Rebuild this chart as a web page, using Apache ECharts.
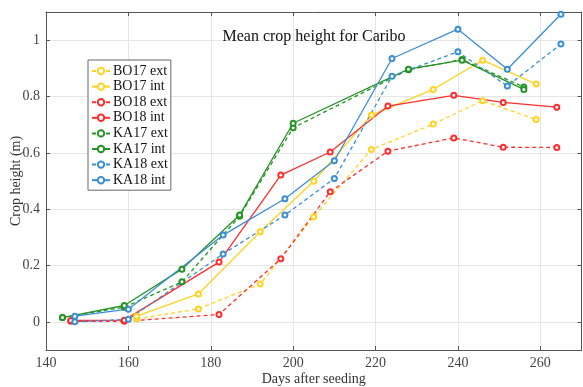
<!DOCTYPE html>
<html>
<head>
<meta charset="utf-8">
<script src="https://cdn.jsdelivr.net/npm/echarts@6/dist/echarts.min.js"></script>
<style>html,body{margin:0;padding:0;background:#fff}#c{width:583px;height:387px}</style>
</head>
<body>
<div id="c"></div>
<script>
const daysBO17 = [162, 177, 192, 205, 219, 234, 246, 259];
const bo17ext = [0.01, 0.046, 0.134, 0.373, 0.612, 0.702, 0.785, 0.718];
const bo17int = [0.02, 0.099, 0.32, 0.499, 0.734, 0.825, 0.929, 0.844];
const daysBO18 = [146, 159, 182, 197, 209, 223, 239, 251, 264];
const bo18ext = [0.002, 0.002, 0.026, 0.224, 0.462, 0.606, 0.653, 0.62, 0.619];
const bo18int = [0.005, 0.006, 0.212, 0.521, 0.603, 0.766, 0.804, 0.779, 0.762];
const daysKA17 = [144, 159, 173, 187, 200, 228, 241, 256];
const ka17ext = [0.015, 0.052, 0.142, 0.375, 0.689, 0.895, 0.931, 0.834];
const ka17int = [0.015, 0.058, 0.187, 0.379, 0.705, 0.897, 0.929, 0.825];
const daysKA18 = [147, 160, 183, 198, 210, 224, 240, 252, 265];
const ka18ext = [0.0, 0.009, 0.241, 0.379, 0.509, 0.872, 0.959, 0.837, 0.986];
const ka18int = [0.02, 0.045, 0.308, 0.437, 0.572, 0.935, 1.039, 0.897, 1.092];
const yTicks = [0, 0.2, 0.4, 0.6, 0.8, 1];

const FONT = 'Liberation Serif';
const C = {yellow: '#FFD320', red: '#FF2E2E', green: '#259425', blue: '#3A8ED4'};

function pairs(d, v) { return d.map((x, i) => [x, v[i]]); }
function mk(name, d, v, color, dashed) {
  return {
    name: name, type: 'line', data: pairs(d, v),
    symbol: 'emptyCircle', symbolSize: 5,
    lineStyle: {color: color, width: 1.3, type: dashed ? [4, 3] : 'solid'},
    itemStyle: {color: color, borderWidth: 1.2},
    emphasis: {disabled: true}, animation: false, z: 3
  };
}

const chart = echarts.init(document.getElementById('c'));
const axisLine = {show: true, onZero: false, lineStyle: {color: '#555', width: 1}};
chart.setOption({
  animation: false,
  backgroundColor: '#fff',
  textStyle: {fontFamily: FONT},
  grid: {left: 46, right: 1.5, top: 12, bottom: 37, outerBoundsMode: 'none', containLabel: false},
  title: {
    text: 'Mean crop height for Caribo', left: 309, top: 24, textAlign: 'center',
    textStyle: {fontFamily: FONT, fontSize: 16, fontWeight: 'normal', color: '#111'}
  },
  legend: {
    orient: 'vertical', left: 88, top: 60,
    backgroundColor: '#fff', borderColor: '#666', borderWidth: 1,
    padding: [4, 3, 3, 3], itemGap: 1.6, itemWidth: 18, itemHeight: 8,
    textStyle: {fontFamily: FONT, fontSize: 14, color: '#111', padding: [0, 0, 0, -2]},
    data: ['BO17 ext', 'BO17 int', 'BO18 ext', 'BO18 int', 'KA17 ext', 'KA17 int', 'KA18 ext', 'KA18 int']
  },
  xAxis: [{
    type: 'value', min: 140, max: 270, interval: 20,
    name: 'Days after seeding', nameLocation: 'middle', nameGap: 22, nameMoveOverlap: false,
    nameTextStyle: {fontFamily: FONT, fontSize: 14, color: '#333'},
    axisLine: axisLine, axisTick: {inside: true, length: 4, lineStyle: {color: '#555'}},
    axisLabel: {fontFamily: FONT, fontSize: 14, color: '#444', margin: 6, showMaxLabel: false},
    splitLine: {show: true, lineStyle: {color: '#e6e6e6', width: 1}}
  }, {
    type: 'value', min: 140, max: 270, interval: 20, position: 'top',
    axisLine: axisLine, axisTick: {inside: true, length: 4, lineStyle: {color: '#555'}},
    axisLabel: {show: false}, splitLine: {show: false}
  }],
  yAxis: [{
    type: 'value', min: -0.1, max: 1.1,
    name: 'Crop height (m)', nameLocation: 'middle', nameGap: 23, nameMoveOverlap: false,
    nameTextStyle: {fontFamily: FONT, fontSize: 14, color: '#333'},
    axisLine: axisLine,
    axisTick: {inside: true, length: 4, lineStyle: {color: '#555'}, customValues: yTicks},
    axisLabel: {fontFamily: FONT, fontSize: 14, color: '#444', margin: 6, customValues: yTicks,
      formatter: v => String(+(+v).toFixed(2))},
    splitLine: {show: true, lineStyle: {color: '#e6e6e6', width: 1}}
  }, {
    type: 'value', min: -0.1, max: 1.1, position: 'right',
    axisLine: axisLine,
    axisTick: {inside: true, length: 4, lineStyle: {color: '#555'}, customValues: yTicks},
    axisLabel: {show: false}, splitLine: {show: false}
  }],
  series: [
    mk('BO17 ext', daysBO17, bo17ext, C.yellow, true),
    mk('BO17 int', daysBO17, bo17int, C.yellow, false),
    mk('BO18 ext', daysBO18, bo18ext, C.red, true),
    mk('BO18 int', daysBO18, bo18int, C.red, false),
    mk('KA17 ext', daysKA17, ka17ext, C.green, true),
    mk('KA17 int', daysKA17, ka17int, C.green, false),
    mk('KA18 ext', daysKA18, ka18ext, C.blue, true),
    mk('KA18 int', daysKA18, ka18int, C.blue, false)
  ]
});
</script>
</body>
</html>
